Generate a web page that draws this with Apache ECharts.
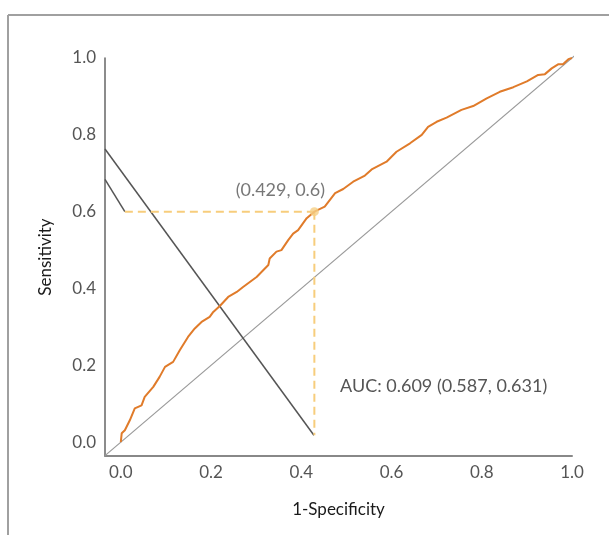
<!DOCTYPE html>
<html>
<head>
<meta charset="utf-8">
<script src="https://cdn.jsdelivr.net/npm/echarts@6/dist/echarts.min.js"></script>
<style>
  html, body { margin: 0; padding: 0; background: #fff; }
  #chart { width: 609px; height: 535px; }
</style>
</head>
<body>
<div id="chart"></div>
<script>
// ROC curve (1-specificity, sensitivity)
const rocFpr = [0, 0.002, 0.009, 0.02, 0.031, 0.046, 0.053, 0.072, 0.086, 0.098, 0.116, 0.131, 0.149, 0.164, 0.179, 0.197, 0.205, 0.22,
  0.238, 0.257, 0.271, 0.301, 0.327, 0.33, 0.345, 0.356, 0.371, 0.382, 0.393, 0.412, 0.429,
  0.452, 0.475, 0.493, 0.515, 0.541, 0.556, 0.589, 0.611, 0.641, 0.667, 0.681, 0.7, 0.722,
  0.755, 0.781, 0.811, 0.84, 0.87, 0.9, 0.925, 0.94, 0.955, 0.97, 0.98, 0.992, 1.0];
const rocTpr = [0, 0.023, 0.031, 0.057, 0.088, 0.096, 0.118, 0.144, 0.17, 0.196, 0.209, 0.24, 0.274, 0.296, 0.313, 0.326, 0.339, 0.355,
  0.378, 0.391, 0.404, 0.43, 0.461, 0.478, 0.496, 0.5, 0.526, 0.543, 0.552, 0.583, 0.6,
  0.613, 0.648, 0.659, 0.678, 0.694, 0.71, 0.73, 0.756, 0.778, 0.8, 0.821, 0.834, 0.845,
  0.865, 0.875, 0.895, 0.912, 0.924, 0.939, 0.956, 0.958, 0.973, 0.984, 0.984, 0.997, 1.0];

// chance line
const chanceX = [-0.035, 1.04];
const chanceY = [-0.035, 1.04];

// dark guide lines
const longLineX = [-0.035, 0.428];
const longLineY = [0.763, 0.018];
const shortLineX = [-0.035, 0.009];
const shortLineY = [0.684, 0.6];

// optimal cut-off point
const cutX = 0.429;
const cutY = 0.6;
const dashH = [[0.009, 0.6], [0.429, 0.6]];
const dashV = [[0.429, 0.6], [0.429, 0.018]];

const tickValues = [0, 0.2, 0.4, 0.6, 0.8, 1.0];
const aucText = 'AUC: 0.609 (0.587, 0.631)';

const zip = (xs, ys) => xs.map((x, i) => [x, ys[i]]);

const chart = echarts.init(document.getElementById('chart'));

const axisFont = { fontFamily: 'Lato', fontSize: 17, color: '#555' };
const nameFont = { fontFamily: 'Lato', fontSize: 17, color: '#1a1a1a' };

const option = {
  backgroundColor: '#fff',
  animation: false,
  grid: { left: 105, right: 37, top: 58, bottom: 79 },
  xAxis: {
    type: 'value',
    min: -0.035,
    max: 1.0,
    name: '1-Specificity',
    nameLocation: 'middle',
    nameGap: 45,
    nameTextStyle: nameFont,
    axisLine: { show: true, onZero: false, lineStyle: { color: '#888', width: 2 } },
    axisTick: { show: false },
    splitLine: { show: false },
    axisLabel: Object.assign({
      customValues: tickValues,
      margin: 8,
      formatter: v => v.toFixed(1)
    }, axisFont)
  },
  yAxis: {
    type: 'value',
    min: -0.036,
    max: 1.0,
    name: 'Sensitivity',
    nameLocation: 'middle',
    nameGap: 51,
    nameTextStyle: nameFont,
    axisLine: { show: true, onZero: false, lineStyle: { color: '#666', width: 1.5 } },
    axisTick: { show: false },
    splitLine: { show: false },
    axisLabel: Object.assign({
      customValues: tickValues,
      margin: 9,
      formatter: v => v.toFixed(1)
    }, axisFont)
  },
  graphic: [
    // outer frame
    { type: 'line', shape: { x1: 8, y1: 15, x2: 609, y2: 15 }, style: { stroke: '#a0a0a0', lineWidth: 2 } },
    { type: 'line', shape: { x1: 8, y1: 15, x2: 8, y2: 535 }, style: { stroke: '#a0a0a0', lineWidth: 2 } },
    {
      type: 'text', left: 340, top: 377,
      style: { text: aucText, fontFamily: 'Lato', fontSize: 18, fill: '#555' }
    }
  ],
  series: [
    {
      type: 'line', data: zip(chanceX, chanceY), symbol: 'none', clip: false,
      lineStyle: { color: '#999', width: 1.2 }, z: 1
    },
    {
      type: 'line', data: zip(longLineX, longLineY), symbol: 'none',
      lineStyle: { color: '#555', width: 1.5 }, z: 2
    },
    {
      type: 'line', data: zip(shortLineX, shortLineY), symbol: 'none',
      lineStyle: { color: '#555', width: 1.5 }, z: 2
    },
    {
      type: 'line', data: dashH, symbol: 'none',
      lineStyle: { color: '#f7cd7c', width: 2, type: [8, 5] }, z: 3
    },
    {
      type: 'line', data: dashV, symbol: 'none',
      lineStyle: { color: '#f7cd7c', width: 2, type: [8, 5] }, z: 3
    },
    {
      type: 'line', data: zip(rocFpr, rocTpr), symbol: 'none',
      lineStyle: { color: '#e07b2a', width: 2 }, z: 4
    },
    {
      type: 'scatter', data: [[cutX, cutY]], symbolSize: 9,
      itemStyle: { color: '#f5cf86' }, z: 5,
      label: {
        show: true, position: 'top', offset: [-34, -3],
        formatter: '(' + cutX + ', ' + cutY + ')',
        fontFamily: 'Lato', fontSize: 18, color: '#555'
      }
    }
  ]
};

chart.setOption(option);
</script>
</body>
</html>
